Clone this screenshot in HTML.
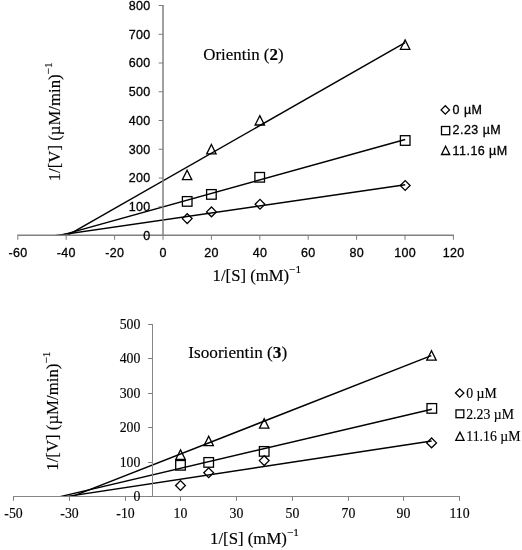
<!DOCTYPE html>
<html><head><meta charset="utf-8"><title>Lineweaver-Burk plots</title>
<style>
html,body{margin:0;padding:0;background:#fff;}
body{width:522px;height:550px;overflow:hidden;font-family:"Liberation Sans",sans-serif;}
svg{display:block;position:absolute;left:0;top:0;will-change:transform}
text{fill:#000}
.sans text{stroke:#000;stroke-width:0.3px}
.serif text{stroke:#000;stroke-width:0.15px}
</style></head>
<body>
<svg width="522" height="550" viewBox="0 0 522 550">
<rect width="522" height="550" fill="#fff"/>
<g id="top" class="sans">
<clipPath id="c235"><rect x="0" y="0" width="522" height="236"/></clipPath>
<g clip-path="url(#c235)">
<line x1="64.2" y1="237.21" x2="405.1" y2="42.7" stroke="#000" stroke-width="1.45"/>
<line x1="57.1" y1="236.33" x2="405.2" y2="139.5" stroke="#000" stroke-width="1.45"/>
<line x1="53" y1="235.94" x2="405.2" y2="184.7" stroke="#000" stroke-width="1.45"/>
</g>
<line x1="17.3" y1="235.25" x2="453.9" y2="235.25" stroke="#808080" stroke-width="1.5"/>
<line x1="163" y1="5" x2="163" y2="235.5" stroke="#808080" stroke-width="1.5"/>
<line x1="17.8" y1="235.5" x2="17.8" y2="239.8" stroke="#7c7c7c" stroke-width="1"/>
<text x="17.95" y="257.4" text-anchor="middle" font-family="'Liberation Sans', sans-serif" font-size="12.5" letter-spacing="0.3">-60</text>
<line x1="66.2" y1="235.5" x2="66.2" y2="239.8" stroke="#7c7c7c" stroke-width="1"/>
<text x="66.35" y="257.4" text-anchor="middle" font-family="'Liberation Sans', sans-serif" font-size="12.5" letter-spacing="0.3">-40</text>
<line x1="114.6" y1="235.5" x2="114.6" y2="239.8" stroke="#7c7c7c" stroke-width="1"/>
<text x="114.75" y="257.4" text-anchor="middle" font-family="'Liberation Sans', sans-serif" font-size="12.5" letter-spacing="0.3">-20</text>
<line x1="163" y1="235.5" x2="163" y2="239.8" stroke="#7c7c7c" stroke-width="1"/>
<text x="163.15" y="257.4" text-anchor="middle" font-family="'Liberation Sans', sans-serif" font-size="12.5" letter-spacing="0.3">0</text>
<line x1="211.4" y1="235.5" x2="211.4" y2="239.8" stroke="#7c7c7c" stroke-width="1"/>
<text x="211.55" y="257.4" text-anchor="middle" font-family="'Liberation Sans', sans-serif" font-size="12.5" letter-spacing="0.3">20</text>
<line x1="259.8" y1="235.5" x2="259.8" y2="239.8" stroke="#7c7c7c" stroke-width="1"/>
<text x="259.95" y="257.4" text-anchor="middle" font-family="'Liberation Sans', sans-serif" font-size="12.5" letter-spacing="0.3">40</text>
<line x1="308.2" y1="235.5" x2="308.2" y2="239.8" stroke="#7c7c7c" stroke-width="1"/>
<text x="308.35" y="257.4" text-anchor="middle" font-family="'Liberation Sans', sans-serif" font-size="12.5" letter-spacing="0.3">60</text>
<line x1="356.6" y1="235.5" x2="356.6" y2="239.8" stroke="#7c7c7c" stroke-width="1"/>
<text x="356.75" y="257.4" text-anchor="middle" font-family="'Liberation Sans', sans-serif" font-size="12.5" letter-spacing="0.3">80</text>
<line x1="405" y1="235.5" x2="405" y2="239.8" stroke="#7c7c7c" stroke-width="1"/>
<text x="405.15" y="257.4" text-anchor="middle" font-family="'Liberation Sans', sans-serif" font-size="12.5" letter-spacing="0.3">100</text>
<line x1="453.4" y1="235.5" x2="453.4" y2="239.8" stroke="#7c7c7c" stroke-width="1"/>
<text x="453.55" y="257.4" text-anchor="middle" font-family="'Liberation Sans', sans-serif" font-size="12.5" letter-spacing="0.3">120</text>
<line x1="158.7" y1="235.5" x2="163" y2="235.5" stroke="#7c7c7c" stroke-width="1"/>
<text x="150.5" y="239.9" text-anchor="end" font-family="'Liberation Sans', sans-serif" font-size="12.5" letter-spacing="0.3">0</text>
<line x1="158.7" y1="206.75" x2="163" y2="206.75" stroke="#7c7c7c" stroke-width="1"/>
<text x="150.5" y="211.15" text-anchor="end" font-family="'Liberation Sans', sans-serif" font-size="12.5" letter-spacing="0.3">100</text>
<line x1="158.7" y1="178" x2="163" y2="178" stroke="#7c7c7c" stroke-width="1"/>
<text x="150.5" y="182.4" text-anchor="end" font-family="'Liberation Sans', sans-serif" font-size="12.5" letter-spacing="0.3">200</text>
<line x1="158.7" y1="149.25" x2="163" y2="149.25" stroke="#7c7c7c" stroke-width="1"/>
<text x="150.5" y="153.65" text-anchor="end" font-family="'Liberation Sans', sans-serif" font-size="12.5" letter-spacing="0.3">300</text>
<line x1="158.7" y1="120.5" x2="163" y2="120.5" stroke="#7c7c7c" stroke-width="1"/>
<text x="150.5" y="124.9" text-anchor="end" font-family="'Liberation Sans', sans-serif" font-size="12.5" letter-spacing="0.3">400</text>
<line x1="158.7" y1="91.75" x2="163" y2="91.75" stroke="#7c7c7c" stroke-width="1"/>
<text x="150.5" y="96.15" text-anchor="end" font-family="'Liberation Sans', sans-serif" font-size="12.5" letter-spacing="0.3">500</text>
<line x1="158.7" y1="63" x2="163" y2="63" stroke="#7c7c7c" stroke-width="1"/>
<text x="150.5" y="67.4" text-anchor="end" font-family="'Liberation Sans', sans-serif" font-size="12.5" letter-spacing="0.3">600</text>
<line x1="158.7" y1="34.25" x2="163" y2="34.25" stroke="#7c7c7c" stroke-width="1"/>
<text x="150.5" y="38.65" text-anchor="end" font-family="'Liberation Sans', sans-serif" font-size="12.5" letter-spacing="0.3">700</text>
<line x1="158.7" y1="5.5" x2="163" y2="5.5" stroke="#7c7c7c" stroke-width="1"/>
<text x="150.5" y="9.9" text-anchor="end" font-family="'Liberation Sans', sans-serif" font-size="12.5" letter-spacing="0.3">800</text>
<path d="M187.1 170.2L191.8 179.6L182.4 179.6Z" fill="none" stroke="#000" stroke-width="1.3" stroke-linejoin="miter"/>
<path d="M211.4 144.5L216.1 153.9L206.7 153.9Z" fill="none" stroke="#000" stroke-width="1.3" stroke-linejoin="miter"/>
<path d="M259.8 115.6L264.5 125L255.1 125Z" fill="none" stroke="#000" stroke-width="1.3" stroke-linejoin="miter"/>
<path d="M405.1 39.9L409.8 49.3L400.4 49.3Z" fill="none" stroke="#000" stroke-width="1.3" stroke-linejoin="miter"/>
<rect x="182.4" y="196.6" width="9.6" height="9.6" fill="none" stroke="#000" stroke-width="1.3"/>
<rect x="206.6" y="189.6" width="9.6" height="9.6" fill="none" stroke="#000" stroke-width="1.3"/>
<rect x="254.9" y="172.5" width="9.6" height="9.6" fill="none" stroke="#000" stroke-width="1.3"/>
<rect x="400.4" y="135.7" width="9.6" height="9.6" fill="none" stroke="#000" stroke-width="1.3"/>
<path d="M182.3 218.6L187.2 213.7L192.1 218.6L187.2 223.5Z" fill="none" stroke="#000" stroke-width="1.3"/>
<path d="M206.6 211.9L211.5 207L216.4 211.9L211.5 216.8Z" fill="none" stroke="#000" stroke-width="1.3"/>
<path d="M255.1 204.2L260 199.3L264.9 204.2L260 209.1Z" fill="none" stroke="#000" stroke-width="1.3"/>
<path d="M400.3 185.5L405.2 180.6L410.1 185.5L405.2 190.4Z" fill="none" stroke="#000" stroke-width="1.3"/>
<path d="M441.1 109.9L445.3 105.7L449.5 109.9L445.3 114.1Z" fill="none" stroke="#000" stroke-width="1.3"/>
<text x="452.6" y="114.2" text-anchor="start" font-family="'Liberation Sans', sans-serif" font-size="12.5" letter-spacing="0.45">0 µM</text>
<rect x="441.5" y="126.5" width="8.2" height="8.2" fill="none" stroke="#000" stroke-width="1.3"/>
<text x="452.6" y="134.2" text-anchor="start" font-family="'Liberation Sans', sans-serif" font-size="12.5" letter-spacing="0.45">2.23 µM</text>
<path d="M445.6 146.3L449.7 154.5L441.5 154.5Z" fill="none" stroke="#000" stroke-width="1.3" stroke-linejoin="miter"/>
<text x="452.6" y="154.6" text-anchor="start" font-family="'Liberation Sans', sans-serif" font-size="12.5" letter-spacing="0.45">11.16 µM</text>
</g>
<g id="bottom" class="serif">
<clipPath id="c496"><rect x="0" y="0" width="522" height="497"/></clipPath>
<g clip-path="url(#c496)">
<line x1="69.3" y1="497.58" x2="431.3" y2="355.6" stroke="#000" stroke-width="1.45"/>
<line x1="58" y1="497.1" x2="431.8" y2="409.3" stroke="#000" stroke-width="1.45"/>
<line x1="64" y1="496.86" x2="431.6" y2="441" stroke="#000" stroke-width="1.45"/>
</g>
<line x1="13" y1="496.5" x2="460" y2="496.5" stroke="#868686" stroke-width="1.0"/>
<line x1="152.5" y1="324" x2="152.5" y2="496.5" stroke="#868686" stroke-width="1.0"/>
<line x1="13.5" y1="496.5" x2="13.5" y2="500.8" stroke="#7c7c7c" stroke-width="1"/>
<text transform="translate(13.5 518.3) scale(1 1.05)" text-anchor="middle" font-family="'Liberation Serif', serif" font-size="13.8">-50</text>
<line x1="69.5" y1="496.5" x2="69.5" y2="500.8" stroke="#7c7c7c" stroke-width="1"/>
<text transform="translate(69.5 518.3) scale(1 1.05)" text-anchor="middle" font-family="'Liberation Serif', serif" font-size="13.8">-30</text>
<line x1="125.5" y1="496.5" x2="125.5" y2="500.8" stroke="#7c7c7c" stroke-width="1"/>
<text transform="translate(125.5 518.3) scale(1 1.05)" text-anchor="middle" font-family="'Liberation Serif', serif" font-size="13.8">-10</text>
<line x1="180.5" y1="496.5" x2="180.5" y2="500.8" stroke="#7c7c7c" stroke-width="1"/>
<text transform="translate(180.5 518.3) scale(1 1.05)" text-anchor="middle" font-family="'Liberation Serif', serif" font-size="13.8">10</text>
<line x1="236.5" y1="496.5" x2="236.5" y2="500.8" stroke="#7c7c7c" stroke-width="1"/>
<text transform="translate(236.5 518.3) scale(1 1.05)" text-anchor="middle" font-family="'Liberation Serif', serif" font-size="13.8">30</text>
<line x1="292.5" y1="496.5" x2="292.5" y2="500.8" stroke="#7c7c7c" stroke-width="1"/>
<text transform="translate(292.5 518.3) scale(1 1.05)" text-anchor="middle" font-family="'Liberation Serif', serif" font-size="13.8">50</text>
<line x1="348.5" y1="496.5" x2="348.5" y2="500.8" stroke="#7c7c7c" stroke-width="1"/>
<text transform="translate(348.5 518.3) scale(1 1.05)" text-anchor="middle" font-family="'Liberation Serif', serif" font-size="13.8">70</text>
<line x1="403.5" y1="496.5" x2="403.5" y2="500.8" stroke="#7c7c7c" stroke-width="1"/>
<text transform="translate(403.5 518.3) scale(1 1.05)" text-anchor="middle" font-family="'Liberation Serif', serif" font-size="13.8">90</text>
<line x1="459.5" y1="496.5" x2="459.5" y2="500.8" stroke="#7c7c7c" stroke-width="1"/>
<text transform="translate(459.5 518.3) scale(1 1.05)" text-anchor="middle" font-family="'Liberation Serif', serif" font-size="13.8">110</text>
<line x1="148.2" y1="496.5" x2="152.5" y2="496.5" stroke="#7c7c7c" stroke-width="1"/>
<text transform="translate(140.3 501.2) scale(1 1.05)" text-anchor="end" font-family="'Liberation Serif', serif" font-size="13.8">0</text>
<line x1="148.2" y1="462.5" x2="152.5" y2="462.5" stroke="#7c7c7c" stroke-width="1"/>
<text transform="translate(140.3 467.2) scale(1 1.05)" text-anchor="end" font-family="'Liberation Serif', serif" font-size="13.8">100</text>
<line x1="148.2" y1="427.5" x2="152.5" y2="427.5" stroke="#7c7c7c" stroke-width="1"/>
<text transform="translate(140.3 432.2) scale(1 1.05)" text-anchor="end" font-family="'Liberation Serif', serif" font-size="13.8">200</text>
<line x1="148.2" y1="393.5" x2="152.5" y2="393.5" stroke="#7c7c7c" stroke-width="1"/>
<text transform="translate(140.3 398.2) scale(1 1.05)" text-anchor="end" font-family="'Liberation Serif', serif" font-size="13.8">300</text>
<line x1="148.2" y1="358.5" x2="152.5" y2="358.5" stroke="#7c7c7c" stroke-width="1"/>
<text transform="translate(140.3 363.2) scale(1 1.05)" text-anchor="end" font-family="'Liberation Serif', serif" font-size="13.8">400</text>
<line x1="148.2" y1="324.5" x2="152.5" y2="324.5" stroke="#7c7c7c" stroke-width="1"/>
<text transform="translate(140.3 329.2) scale(1 1.05)" text-anchor="end" font-family="'Liberation Serif', serif" font-size="13.8">500</text>
<path d="M180.5 449.9L185.2 459.3L175.8 459.3Z" fill="none" stroke="#000" stroke-width="1.3" stroke-linejoin="miter"/>
<path d="M208.7 436.2L213.4 445.6L204 445.6Z" fill="none" stroke="#000" stroke-width="1.3" stroke-linejoin="miter"/>
<path d="M264.2 418.8L268.9 428.2L259.5 428.2Z" fill="none" stroke="#000" stroke-width="1.3" stroke-linejoin="miter"/>
<path d="M431.5 350.8L436.2 360.2L426.8 360.2Z" fill="none" stroke="#000" stroke-width="1.3" stroke-linejoin="miter"/>
<rect x="175.7" y="460.5" width="9.6" height="9.6" fill="none" stroke="#000" stroke-width="1.3"/>
<rect x="203.9" y="457.6" width="9.6" height="9.6" fill="none" stroke="#000" stroke-width="1.3"/>
<rect x="259.4" y="446.6" width="9.6" height="9.6" fill="none" stroke="#000" stroke-width="1.3"/>
<rect x="427" y="403.6" width="9.6" height="9.6" fill="none" stroke="#000" stroke-width="1.3"/>
<path d="M175.6 485.5L180.5 480.6L185.4 485.5L180.5 490.4Z" fill="none" stroke="#000" stroke-width="1.3"/>
<path d="M203.8 472.7L208.7 467.8L213.6 472.7L208.7 477.6Z" fill="none" stroke="#000" stroke-width="1.3"/>
<path d="M259.3 460.6L264.2 455.7L269.1 460.6L264.2 465.5Z" fill="none" stroke="#000" stroke-width="1.3"/>
<path d="M426.7 442.9L431.6 438L436.5 442.9L431.6 447.8Z" fill="none" stroke="#000" stroke-width="1.3"/>
<path d="M455.5 393L459.7 388.8L463.9 393L459.7 397.2Z" fill="none" stroke="#000" stroke-width="1.3"/>
<text transform="translate(466.2 397.6) scale(1 1.05)" text-anchor="start" font-family="'Liberation Serif', serif" font-size="13.8">0 µM</text>
<rect x="456" y="409.9" width="7.8" height="7.8" fill="none" stroke="#000" stroke-width="1.3"/>
<text transform="translate(466.2 418.9) scale(1 1.05)" text-anchor="start" font-family="'Liberation Serif', serif" font-size="13.8">2.23 µM</text>
<path d="M459.9 432.1L464 440.3L455.8 440.3Z" fill="none" stroke="#000" stroke-width="1.3" stroke-linejoin="miter"/>
<text transform="translate(466.3 440.9) scale(1 1.05)" text-anchor="start" font-family="'Liberation Serif', serif" font-size="13.8">11.16 µM</text>
</g>
<g id="labels" class="serif">

<text x="203.3" y="59.6" font-family="'Liberation Serif', serif" font-size="16.9">Orientin (<tspan font-weight="bold">2</tspan>)</text>
<text x="188.3" y="358.2" font-family="'Liberation Serif', serif" font-size="17.2">Isoorientin (<tspan font-weight="bold">3</tspan>)</text>
<text x="212.6" y="281.1" font-family="'Liberation Serif', serif" font-size="16.7">1/[S] (mM)<tspan dy="-8" font-size="11.3">−1</tspan></text>
<text x="210.0" y="543.9" font-family="'Liberation Serif', serif" font-size="16.8">1/[S] (mM)<tspan dy="-8" font-size="11.3">−1</tspan></text>
<text transform="translate(60 181.3) rotate(-90)" font-family="'Liberation Serif', serif" font-size="16.75">1/[V] (µM/min)<tspan dy="-8" font-size="11.3">−1</tspan></text>
<text transform="translate(58.3 470.7) rotate(-90)" font-family="'Liberation Serif', serif" font-size="16.8">1/[V] (µM/min)<tspan dy="-8" font-size="11.3">−1</tspan></text>

</g>
</svg>
</body></html>
